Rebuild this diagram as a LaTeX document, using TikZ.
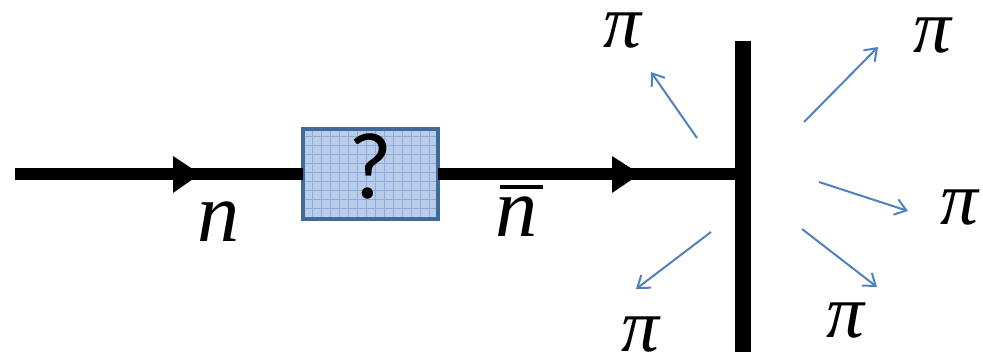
\documentclass[tikz,border=0pt]{standalone}
\usepackage{fontspec}
\newfontfamily\calibri{Carlito}
\newfontfamily\symserif{Liberation Serif}
\usetikzlibrary{arrows.meta}
\definecolor{boxedge}{RGB}{65,105,155}
\definecolor{boxfill}{RGB}{185,204,234}
\definecolor{boxgrid}{RGB}{140,172,218}
\definecolor{pionblue}{RGB}{79,129,189}
\newcommand{\barred}[1]{\ooalign{\hfil\kern0.1cm\rule[0.96cm]{0.86cm}{0.08cm}\hfil\cr#1\cr}}
\tikzset{
 beam/.style={line width=0.26cm},
 wallbar/.style={line width=0.32cm},
 pion/.style={draw=pionblue, line width=0.04cm, -{Straight Barb[length=0.22cm,width=0.32cm]}},
 pilabel/.style={font=\symserif\itshape\fontsize{43}{47}\selectfont, inner sep=0pt},
 nlabel/.style={font=\symserif\itshape\fontsize{48}{52}\selectfont, inner sep=0pt, anchor=south},
 qbox/.style={draw=boxedge, line width=0.08cm, fill=boxfill, outer sep=0pt,
   minimum width=2.7cm, minimum height=1.82cm, inner sep=0pt, text depth=0.3cm,
   font=\calibri\fontsize{54}{60}\selectfont,
   path picture={\draw[boxgrid, line width=0.4pt, step=0.18cm]
     (path picture bounding box.south west) grid (path picture bounding box.north east);}},
}
\begin{document}
\begin{tikzpicture}[x=0.02cm, y=-0.02cm]
\useasboundingbox (0,0) rectangle (983,358);
% coordinates
\coordinate (start) at (15,174);
\coordinate (hit) at (743,174);
\coordinate (walltop) at (743,41);
\coordinate (wallbot) at (743,352);
% box
\node[qbox] (q) at (370.5,174) {?};
% beams
\draw[beam] (start) -- (q.west);
\draw[beam] (q.east) -- (hit);
\draw[wallbar] (walltop) -- (wallbot);
% direction triangles
\fill (173,156) -- (200,174) -- (173,193) -- cycle;
\fill (612,156) -- (640,174) -- (612,193) -- cycle;
% labels
\node[nlabel] (nlab) at (219,242) {n};
\node[nlabel] (nbarlab) at (519,237) {\barred{n}};
% pion arrows
\coordinate (p1s) at (697,138); \coordinate (p1e) at (651,72);
\coordinate (p2s) at (804,122); \coordinate (p2e) at (878,47);
\coordinate (p3s) at (819,182); \coordinate (p3e) at (908,211);
\coordinate (p4s) at (802,229); \coordinate (p4e) at (877,287);
\coordinate (p5s) at (711,232); \coordinate (p5e) at (636,289);
\draw[pion] (p1s) -- (p1e);
\draw[pion] (p2s) -- (p2e);
\draw[pion] (p3s) -- (p3e);
\draw[pion] (p4s) -- (p4e);
\draw[pion] (p5s) -- (p5e);
% pion labels
\node[pilabel] (pi1) at (622,31) {π};
\node[pilabel] (pi2) at (932,36) {π};
\node[pilabel] (pi3) at (959,208) {π};
\node[pilabel] (pi4) at (845,321) {π};
\node[pilabel] (pi5) at (640,335) {π};
\end{tikzpicture}
\end{document}
